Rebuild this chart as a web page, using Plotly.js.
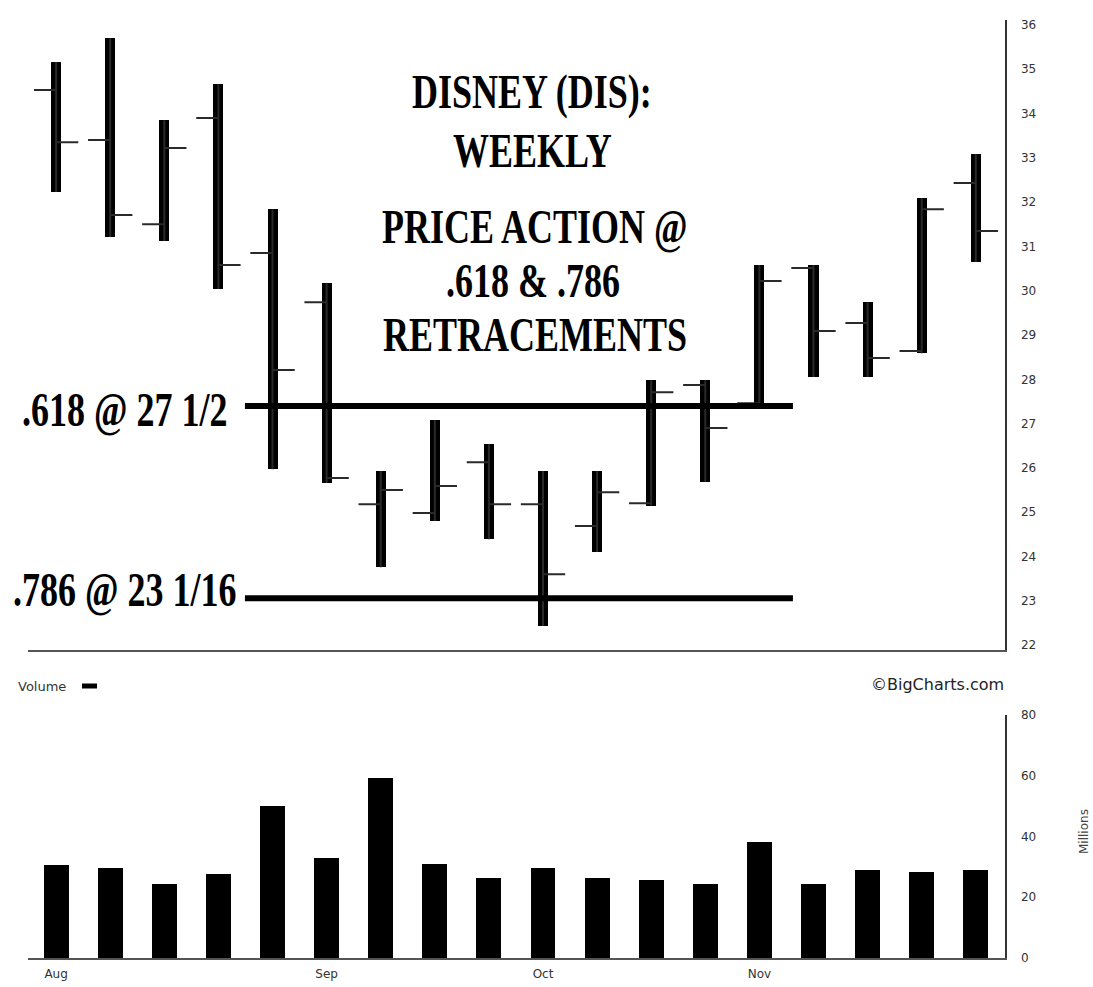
<!DOCTYPE html>
<html>
<head>
<meta charset="utf-8">
<script src="https://cdn.plot.ly/plotly-3.0.1.min.js"></script>
<style>
  html, body { margin: 0; padding: 0; background: #fff; }
  #chart { width: 1093px; height: 987px; }
</style>
</head>
<body>
<div id="chart"></div>
<script>
// Weekly periods (first trading day of each week)
const weeks = ["Aug 3","Aug 10","Aug 17","Aug 24","Aug 31","Sep 7","Sep 14","Sep 21","Sep 28",
               "Oct 5","Oct 12","Oct 19","Oct 26","Nov 2","Nov 9","Nov 16","Nov 23","Nov 30"];
const openP  = [34.53,33.40,31.50,33.90,30.85,29.74,25.18,24.98,26.13,25.18,24.69,25.20,27.87,27.46,30.51,29.27,28.64,32.43];
const highP  = [35.16,35.70,33.85,34.66,31.84,30.17,25.93,27.08,26.54,25.93,25.93,27.98,27.98,30.58,30.58,29.74,32.09,33.08];
const lowP   = [32.23,31.21,31.12,30.04,25.97,25.66,23.76,24.80,24.39,22.43,24.10,25.15,25.68,27.46,28.05,28.05,28.59,30.65];
const closeP = [33.35,31.71,33.22,30.58,28.21,25.77,25.50,25.59,25.18,23.60,25.45,27.71,26.90,30.22,29.09,28.48,31.84,31.35];
const volume = [30.6,29.6,24.4,27.7,50.0,32.9,59.3,30.9,26.3,29.6,26.3,25.7,24.4,38.2,24.4,29.0,28.3,29.0]; // millions

const monthTickVals = ["Aug 3","Sep 7","Oct 5","Nov 2"];
const monthTickText = ["Aug","Sep","Oct","Nov"];
const priceTicks = [22,23,24,25,26,27,28,29,30,31,32,33,34,35,36];
const volTicks = [0,20,40,60,80];

// Retracement levels as drawn
const retraceLevels = [27.40, 23.06];
const retraceLabels = [".618 @ 27 1/2", ".786 @ 23 1/16"];

const titleLines = ["DISNEY (DIS):", "WEEKLY", "PRICE ACTION @", ".618 & .786", "RETRACEMENTS"];

// ---- helpers: pixel -> paper for plot area (l=28, r=1005, t=20, b=958)
const L = 28, R = 1005, T = 20, B = 958;
const px = x => (x - L) / (R - L);
const py = y => (B - y) / (B - T);

const rangeBars = {
  type: 'bar', x: weeks, base: lowP,
  y: highP.map((h, i) => h - lowP[i]),
  width: 0.185, marker: {color: '#000', line: {width: 0}},
  xaxis: 'x', yaxis: 'y', hoverinfo: 'skip', showlegend: false
};
const ohlc = {
  type: 'ohlc', x: weeks, open: openP, high: highP, low: lowP, close: closeP,
  tickwidth: 0.41,
  increasing: {line: {color: '#2a2a2a', width: 2}},
  decreasing: {line: {color: '#2a2a2a', width: 2}},
  xaxis: 'x', yaxis: 'y', showlegend: false, hoverinfo: 'skip'
};
const volBars = {
  type: 'bar', x: weeks, y: volume, width: 0.46,
  marker: {color: '#000', line: {width: 0}},
  xaxis: 'x2', yaxis: 'y2', showlegend: false, hoverinfo: 'skip'
};

const tickFont = {family: 'DejaVu Sans, sans-serif', size: 12, color: '#333'};
const serif = {family: 'Liberation Serif, Times New Roman, serif', size: 36, color: '#000', weight: 'bold'};

const titleY = [92, 151, 227, 281, 335];
const titleX = [532, 532, 535, 533, 535];

const annotations = [];
titleLines.forEach((t, i) => annotations.push({
  text: t, xref: 'paper', yref: 'paper', x: px(titleX[i]), y: py(titleY[i]),
  xanchor: 'center', yanchor: 'middle', showarrow: false, font: serif
}));
const labelY = [410, 590];
const labelX = [125, 125];
retraceLabels.forEach((t, i) => annotations.push({
  text: t, xref: 'paper', yref: 'paper', x: px(labelX[i]), y: py(labelY[i]),
  xanchor: 'center', yanchor: 'middle', showarrow: false, font: serif
}));
annotations.push({
  text: 'Volume', xref: 'paper', yref: 'paper', x: px(16), y: py(686),
  xanchor: 'left', yanchor: 'middle', showarrow: false,
  font: {family: 'DejaVu Sans', size: 13, color: '#333'}
});
annotations.push({
  text: '©BigCharts.com', xref: 'paper', yref: 'paper', x: px(1006), y: py(685),
  xanchor: 'right', yanchor: 'middle', showarrow: false,
  font: {family: 'DejaVu Sans', size: 16, color: '#222'}
});
annotations.push({
  text: 'Millions', xref: 'paper', yref: 'paper', x: px(1084), y: py(832),
  xanchor: 'center', yanchor: 'middle', showarrow: false, textangle: -90,
  font: {family: 'DejaVu Sans', size: 12, color: '#444'}
});

const shapes = retraceLevels.map(v => ({
  type: 'line', xref: 'x', yref: 'y', x0: 3.49, x1: 13.62, y0: v, y1: v,
  line: {color: '#000', width: 6}, layer: 'above'
}));
shapes.push({
  type: 'line', xref: 'paper', yref: 'paper', x0: px(82), x1: px(97), y0: py(686), y1: py(686),
  line: {color: '#000', width: 5}
});

const layout = {
  width: 1093, height: 987,
  margin: {l: L, r: 1093 - R, t: T, b: 987 - B, pad: 0},
  paper_bgcolor: '#fff', plot_bgcolor: '#fff',
  showlegend: false,
  xaxis: {
    type: 'category', domain: [0, 1], anchor: 'y', range: [-0.52, 17.54],
    showline: true, linecolor: '#555', linewidth: 2, showticklabels: false,
    ticks: '', showgrid: false, zeroline: false, fixedrange: true,
    rangeslider: {visible: false}
  },
  yaxis: {
    domain: [py(650), 1], range: [21.89, 36.11], side: 'right', anchor: 'x',
    showline: true, linecolor: '#333', linewidth: 1.5, tickvals: priceTicks,
    ticks: '', ticklabelstandoff: 12, showgrid: false, zeroline: false,
    tickfont: tickFont
  },
  xaxis2: {
    type: 'category', domain: [0, 1], anchor: 'y2', range: [-0.52, 17.54],
    showline: true, linecolor: '#555', linewidth: 2,
    tickvals: monthTickVals, ticktext: monthTickText, ticks: '',
    ticklabelstandoff: 4, showgrid: false, zeroline: false, tickfont: tickFont
  },
  yaxis2: {
    domain: [0, py(715)], range: [0, 80], side: 'right', anchor: 'x2',
    showline: true, linecolor: '#333', linewidth: 1.5, tickvals: volTicks,
    ticks: '', ticklabelstandoff: 12, showgrid: false, zeroline: false,
    tickfont: tickFont
  },
  annotations: annotations,
  shapes: shapes,
  bargap: 0
};

Plotly.newPlot('chart', [rangeBars, volBars, ohlc], layout, {displayModeBar: false, staticPlot: true})
  .then(gd => {
    // The reference's serif captions are vertically elongated: stretch them (still real text)
    gd.querySelectorAll('.annotation-text').forEach(t => {
      if (!/Liberation Serif/i.test(t.style.fontFamily || '')) return;
      const bb = t.getBBox();
      const cy = bb.y + bb.height / 2;
      const prev = t.getAttribute('transform') || '';
      t.setAttribute('transform', prev + ` translate(0,${cy}) scale(1,1.35) translate(0,${-cy})`);
    });
  });
</script>
</body>
</html>
